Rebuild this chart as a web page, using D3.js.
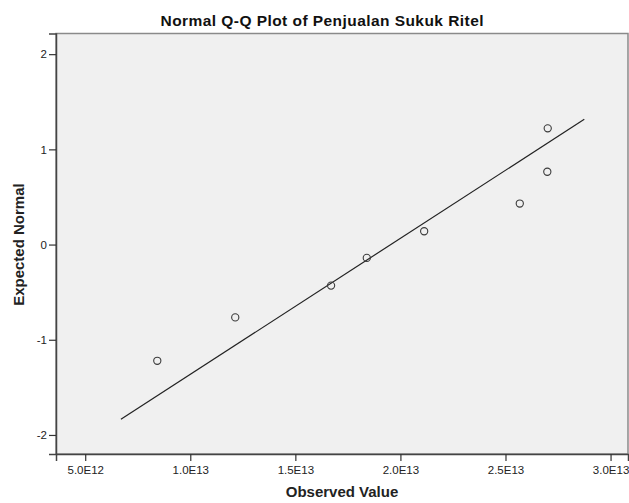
<!DOCTYPE html>
<html>
<head>
<meta charset="utf-8">
<script src="https://d3js.org/d3.v7.min.js"></script>
<style>
  body { margin: 0; background: #fff; }
  text { font-family: "Liberation Sans", Arial, sans-serif; }
</style>
</head>
<body>
<div id="chart"></div>
<script>
// observed values (sorted) and their expected normal scores
var observed = [8.43e12, 1.214e13, 1.670e13, 1.840e13, 2.113e13, 2.568e13, 2.699e13, 2.701e13];
var expected = [-1.221, -0.765, -0.431, -0.140, 0.140, 0.431, 0.765, 1.221];

// reference line end points
var lineX = [6.70e12, 2.875e13];
var lineY = [-1.835, 1.316];

var xTicks = [5e12, 1e13, 1.5e13, 2e13, 2.5e13, 3e13];
var xTickLabels = ["5.0E12", "1.0E13", "1.5E13", "2.0E13", "2.5E13", "3.0E13"];
var yTicks = [-2, -1, 0, 1, 2];

var width = 629, height = 503;
var plotL = 56, plotR = 628, plotT = 33.5, plotB = 454;

var svg = d3.select("#chart").append("svg")
    .attr("width", width)
    .attr("height", height);

var x = d3.scaleLinear().domain([3.61e12, 3.083e13]).range([plotL, plotR]);
var y = d3.scaleLinear().domain([-2.2, 2.217]).range([plotB, plotT]);

svg.append("rect")
    .attr("x", plotL)
    .attr("y", plotT)
    .attr("width", plotR - plotL)
    .attr("height", plotB - plotT)
    .style("fill", "#f0f0f0")
    .style("stroke", "#8a8a8a")
    .style("stroke-width", 1.5);

var xAxis = svg.append("g")
    .attr("transform", "translate(0," + plotB + ")")
    .call(d3.axisBottom(x).tickValues(xTicks).tickSize(7).tickPadding(5)
        .tickFormat(function(d, i) { return xTickLabels[i]; }));

var yAxis = svg.append("g")
    .attr("transform", "translate(" + plotL + ",0)")
    .call(d3.axisLeft(y).tickValues(yTicks).tickSize(7).tickPadding(2)
        .tickFormat(function(d) { return String(d); }));

svg.selectAll(".domain").style("stroke", "#444").style("stroke-width", 1.5);
svg.selectAll(".tick line").style("stroke", "#333").style("stroke-width", 1.2);
svg.selectAll(".tick text")
    .style("font-size", "11.5px")
    .style("fill", "#222");

svg.append("line")
    .attr("x1", x(lineX[0]))
    .attr("y1", y(lineY[0]))
    .attr("x2", x(lineX[1]))
    .attr("y2", y(lineY[1]))
    .style("stroke", "#222")
    .style("stroke-width", 1.2);

svg.selectAll("circle.pt")
    .data(observed)
    .enter()
    .append("circle")
    .attr("class", "pt")
    .attr("cx", function(d) { return x(d); })
    .attr("cy", function(d, i) { return y(expected[i]); })
    .attr("r", 3.6)
    .style("fill", "none")
    .style("stroke", "#3a3a3a")
    .style("stroke-width", 1.1);

svg.append("text")
    .attr("x", 322)
    .attr("y", 26)
    .attr("text-anchor", "middle")
    .attr("textLength", 323)
    .style("font-size", "15.5px")
    .style("font-weight", "bold")
    .style("fill", "#111")
    .text("Normal Q-Q Plot of Penjualan Sukuk Ritel");

svg.append("text")
    .attr("x", (plotL + plotR) / 2)
    .attr("y", 497)
    .attr("text-anchor", "middle")
    .style("font-size", "15px")
    .style("font-weight", "bold")
    .style("fill", "#222")
    .text("Observed Value");

svg.append("text")
    .attr("transform", "translate(24," + y(0) + ") rotate(-90)")
    .attr("text-anchor", "middle")
    .style("font-size", "15px")
    .style("font-weight", "bold")
    .style("fill", "#222")
    .text("Expected Normal");
</script>
</body>
</html>
